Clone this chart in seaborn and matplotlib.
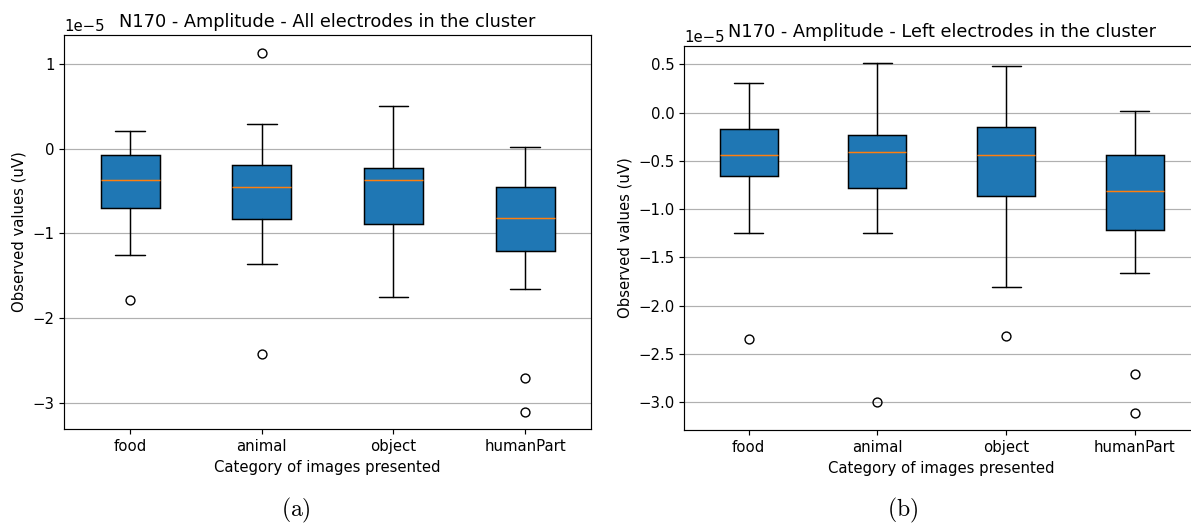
import numpy as np
import matplotlib
matplotlib.use("Agg")
import matplotlib.pyplot as plt
import seaborn as sns

# Categories of images presented
categories = ["food", "animal", "object", "humanPart"]

# N170 amplitude summaries (units of 1e-5 uV) - all electrodes in the cluster
all_whislo = [-1.254, -1.361, -1.748, -1.662]
all_q1 = [-0.703, -0.828, -0.888, -1.215]
all_med = [-0.375, -0.450, -0.375, -0.817]
all_q3 = [-0.076, -0.198, -0.230, -0.454]
all_whishi = [0.205, 0.291, 0.504, 0.015]
all_fliers = [[-1.787], [1.124, -2.430], [], [-2.707, -3.109]]

# N170 amplitude summaries (units of 1e-5 uV) - left electrodes in the cluster
left_whislo = [-1.247, -1.247, -1.806, -1.657]
left_q1 = [-0.656, -0.784, -0.867, -1.212]
left_med = [-0.440, -0.410, -0.440, -0.815]
left_q3 = [-0.170, -0.235, -0.152, -0.442]
left_whishi = [0.303, 0.510, 0.487, 0.013]
left_fliers = [[-2.347], [-2.993], [-2.316], [-2.710, -3.108]]

SCALE = 1e-5

sns.set_theme(style="ticks", rc={
    "axes.edgecolor": "black",
    "axes.linewidth": 0.85,
    "axes.labelcolor": "black",
    "text.color": "black",
    "xtick.color": "black",
    "ytick.color": "black",
    "xtick.major.size": 3.7,
    "ytick.major.size": 3.7,
    "xtick.major.width": 0.85,
    "ytick.major.width": 0.85,
    "grid.color": "#b0b0b0",
    "grid.linewidth": 0.85,
    "font.size": 10.7,
    "xtick.labelsize": 10.7,
    "ytick.labelsize": 10.7,
    "axes.labelsize": 10.7,
    "axes.titlesize": 12.8,
    "mathtext.fontset": "cm",
})
plt.rcParams["font.family"] = ["DejaVu Sans"]


def build_stats(lo, q1, med, q3, hi, fliers):
    stats = []
    for i, name in enumerate(categories):
        stats.append({
            "label": name,
            "whislo": lo[i] * SCALE,
            "q1": q1[i] * SCALE,
            "med": med[i] * SCALE,
            "q3": q3[i] * SCALE,
            "whishi": hi[i] * SCALE,
            "fliers": np.array(fliers[i]) * SCALE,
        })
    return stats


def draw_panel(ax, stats, title):
    ax.bxp(
        stats,
        patch_artist=True,
        boxprops=dict(facecolor="#1f77b4", edgecolor="black", linewidth=1.07),
        medianprops=dict(color="#ff7f0e", linewidth=1.07),
        whiskerprops=dict(color="black", linewidth=1.07),
        capprops=dict(color="black", linewidth=1.07),
        flierprops=dict(marker="o", markerfacecolor="none",
                        markeredgecolor="black", markersize=6.4),
    )
    ax.set_xlim(0.5, 4.5)
    ax.yaxis.grid(True)
    ax.xaxis.grid(False)
    ax.set_axisbelow(True)
    ax.set_title(title)
    ax.set_xlabel("Category of images presented")
    ax.set_ylabel("Observed values (uV)")


fig = plt.figure(figsize=(11.91, 5.25), dpi=100)

ax1 = fig.add_axes([0.054, 0.1829, 0.4422, 0.7505])
draw_panel(ax1, build_stats(all_whislo, all_q1, all_med, all_q3, all_whishi, all_fliers),
           "N170 - Amplitude - All electrodes in the cluster")
ax1.set_ylim(-3.31 * SCALE, 1.34 * SCALE)

ax2 = fig.add_axes([0.5746, 0.181, 0.4322, 0.732])
draw_panel(ax2, build_stats(left_whislo, left_q1, left_med, left_q3, left_whishi, left_fliers),
           "N170 - Amplitude - Left electrodes in the cluster")
ax2.set_ylim(-3.287 * SCALE, 0.693 * SCALE)
ax2.set_yticks(np.arange(-3.0, 0.51, 0.5) * SCALE)

fig.text(296 / 1191, 1 - 510 / 525, r"$\mathrm{(a)}$", ha="center", va="center", fontsize=17)
fig.text(903 / 1191, 1 - 510 / 525, r"$\mathrm{(b)}$", ha="center", va="center", fontsize=17)

fig.savefig("out.png", dpi=100)
